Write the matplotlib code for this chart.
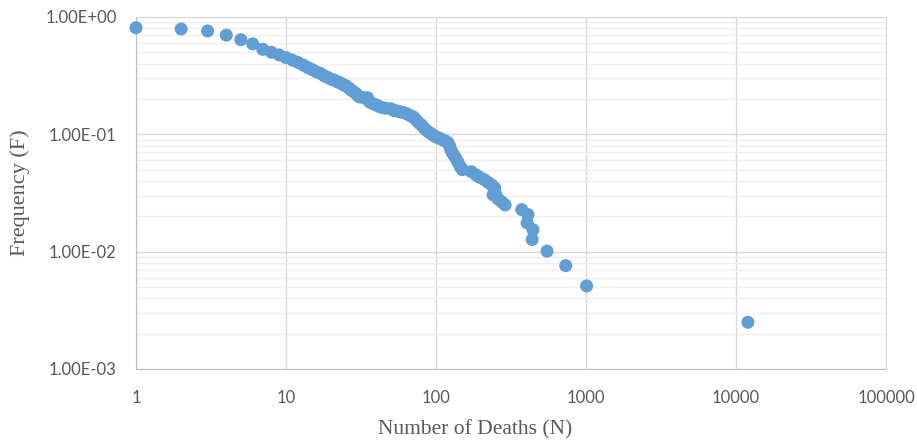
import matplotlib.pyplot as plt
from matplotlib.ticker import FixedLocator, NullFormatter

# Number of deaths (N) and exceedance frequency (F)
deaths = [1, 2, 3, 4, 5, 6, 7, 8, 9, 10,
          11, 12, 13, 14, 15, 16, 17, 18, 19, 20,
          21, 22, 23, 24, 25, 26, 27, 28, 29, 30,
          31, 33, 35, 36, 37, 39, 41, 43, 46, 50,
          52, 55, 58, 62, 65, 68, 71, 74, 77, 80,
          84, 88, 92, 96, 100, 105, 110, 115, 120, 123,
          125, 128, 132, 136, 140, 145, 150, 172, 185, 196,
          210, 222, 235, 246, 240, 250, 260, 275, 289, 373,
          410, 405, 443, 438, 550, 733, 1010, 12000]
freq = [0.81, 0.79, 0.76, 0.70, 0.64, 0.59, 0.53, 0.50, 0.475, 0.45,
        0.43, 0.41, 0.39, 0.37, 0.355, 0.34, 0.33, 0.315, 0.305, 0.295,
        0.29, 0.28, 0.275, 0.265, 0.26, 0.25, 0.24, 0.232, 0.225, 0.215,
        0.208, 0.205, 0.205, 0.19, 0.185, 0.18, 0.175, 0.17, 0.167, 0.165,
        0.16, 0.158, 0.155, 0.152, 0.148, 0.143, 0.14, 0.132, 0.125, 0.12,
        0.112, 0.106, 0.102, 0.098, 0.095, 0.093, 0.09, 0.088, 0.085, 0.08,
        0.075, 0.07, 0.066, 0.062, 0.058, 0.053, 0.05, 0.048, 0.045, 0.043,
        0.041, 0.039, 0.037, 0.035, 0.0305, 0.031, 0.028, 0.0265, 0.025, 0.0228,
        0.0207, 0.0176, 0.0154, 0.0127, 0.0101, 0.0076, 0.0051, 0.0025]

x_ticks = [1, 10, 100, 1000, 10000, 100000]
x_labels = ['1', '10', '100', '1000', '10000', '100000']
y_ticks = [1e-3, 1e-2, 1e-1, 1e0]
y_labels = ['1.00E-03', '1.00E-02', '1.00E-01', '1.00E+00']

text_col = '#595959'
grid_major = '#d9d9d9'
grid_minor = '#efefef'

fig = plt.figure(figsize=(9.17, 4.41), dpi=100)
ax = fig.add_axes([0.1483, 0.1633, 0.8179, 0.7982])

ax.scatter(deaths, freq, s=88, color='#629ed6', edgecolors='none', zorder=3, clip_on=False)

ax.set_xscale('log')
ax.set_yscale('log')
ax.set_xlim(1, 100000)
ax.set_ylim(1e-3, 1)

ax.set_xticks(x_ticks)
ax.set_xticklabels(x_labels)
ax.set_yticks(y_ticks)
ax.set_yticklabels(y_labels)
ax.xaxis.set_minor_locator(FixedLocator([]))
minor_y = [m * 10.0 ** e for e in (-3, -2, -1) for m in range(2, 10)]
ax.yaxis.set_minor_locator(FixedLocator(minor_y))
ax.yaxis.set_minor_formatter(NullFormatter())

ax.grid(True, which='major', color=grid_major, linewidth=1.0, zorder=0)
ax.grid(True, which='minor', axis='y', color=grid_minor, linewidth=1.0, zorder=0)
ax.set_axisbelow(True)

for side in ['left', 'bottom']:
    ax.spines[side].set_color('#bfbfbf')
for side in ['top', 'right']:
    ax.spines[side].set_color(grid_major)

ax.tick_params(which='both', length=0, colors=text_col, labelsize=12)
ax.tick_params(axis='y', pad=14)
ax.tick_params(axis='x', pad=15)
for lab in ax.get_xticklabels() + ax.get_yticklabels():
    lab.set_family('Lato')

ax.set_xlabel('Number of Deaths (N)', family='Liberation Serif', fontsize=15.5,
              color=text_col, va='center')
ax.xaxis.set_label_coords(0.452, -0.173)
ax.set_ylabel('Frequency (F)', family='Liberation Serif', fontsize=16,
              color=text_col, va='center')
ax.yaxis.set_label_coords(-0.155, 0.5)

plt.savefig('out.png', dpi=100)
